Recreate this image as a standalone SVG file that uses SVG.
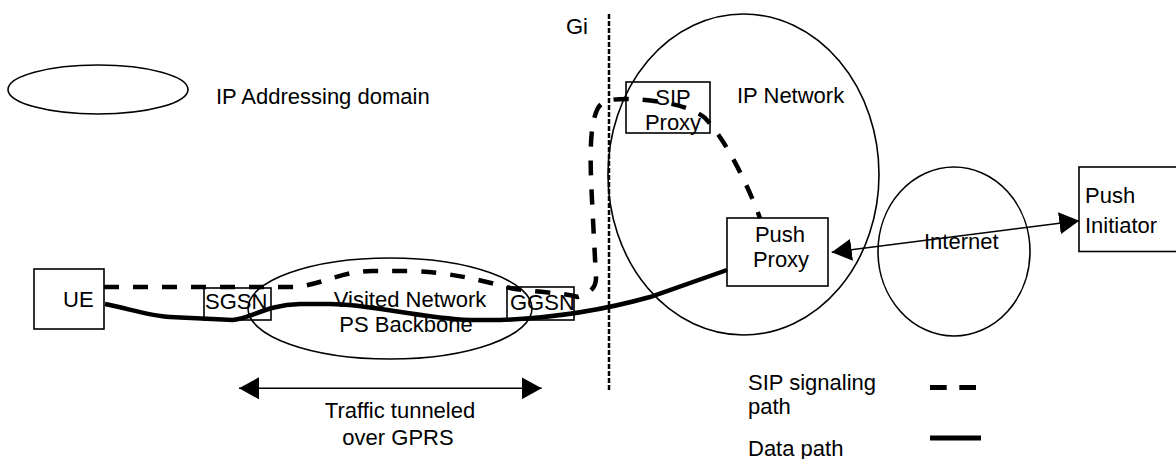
<svg xmlns="http://www.w3.org/2000/svg" width="1176" height="459" viewBox="0 0 1176 459">
<style>
  text { font-family: "Liberation Sans", Arial, sans-serif; font-size: 22px; fill: #000; }
  .outline { fill: none; stroke: #000; stroke-width: 1.6; }
  .box { fill: none; stroke: #000; stroke-width: 1.6; }
  .sig { fill: none; stroke: #000; stroke-width: 4.5; stroke-dasharray: 15 14; }
  .data { fill: none; stroke: #000; stroke-width: 4.5; }
  .arrow { fill: none; stroke: #000; stroke-width: 1.6; marker-start: url(#ah); marker-end: url(#ah); }
  .mid { text-anchor: middle; }
</style>
<defs>
  <marker id="ah" viewBox="0 0 20 22" markerWidth="20" markerHeight="22" markerUnits="userSpaceOnUse" refX="20" refY="11" orient="auto-start-reverse">
    <path d="M0,0 L20,11 L0,22 z" fill="#000"/>
  </marker>
</defs>
<rect width="1176" height="459" fill="#fff"/>

<g id="legend-domain">
  <ellipse class="outline" cx="98" cy="89.5" rx="90" ry="24.5"/>
  <text x="216" y="104">IP Addressing domain</text>
</g>

<g id="gi">
  <line x1="609" y1="14" x2="609" y2="392" stroke="#000" stroke-width="2.5" stroke-dasharray="5 2"/>
  <text x="566" y="34">Gi</text>
</g>

<g id="ip-network">
  <ellipse class="outline" cx="743.5" cy="174.5" rx="135.5" ry="160.5"/>
  <text x="737" y="103">IP Network</text>
</g>

<g id="internet">
  <ellipse class="outline" cx="954" cy="251.5" rx="76" ry="84.5"/>
  <text x="924" y="249">Internet</text>
</g>

<g id="visited-network">
  <ellipse class="outline" cx="390" cy="308.5" rx="142" ry="50.5"/>
  <text class="mid" x="410" y="307">Visited Network</text>
  <text class="mid" x="406" y="332">PS Backbone</text>
</g>

<g id="ue">
  <rect class="box" x="34" y="269" width="70" height="60"/>
  <text x="63" y="307">UE</text>
</g>

<g id="sgsn">
  <rect class="box" x="204" y="288" width="67" height="32"/>
  <text x="205" y="309">SGSN</text>
</g>

<g id="ggsn">
  <rect class="box" x="507" y="287" width="67" height="33"/>
  <text x="510" y="310">GGSN</text>
</g>

<g id="sip-proxy">
  <rect class="box" x="626" y="82" width="84" height="51"/>
  <text class="mid" x="673" y="105">SIP</text>
  <text class="mid" x="673" y="130">Proxy</text>
</g>

<g id="push-proxy">
  <rect class="box" x="727" y="218" width="101" height="68"/>
  <text class="mid" x="780" y="242">Push</text>
  <text class="mid" x="781" y="267">Proxy</text>
</g>

<g id="push-initiator">
  <rect class="box" x="1079" y="167" width="110" height="84.5"/>
  <text x="1085" y="203">Push</text>
  <text x="1085" y="233">Initiator</text>
</g>

<g id="connectors">
  <path class="sig" d="M104,287 L290,287 C318,287 340,271 372,271 L410,271 C450,272 485,281 510,288 C530,292 560,292 578,297 C590,293 596,288 596,278 L592,200 C590,160 589,125 598,108 C603,100 612,99 628,99 C655,100 688,104 705,118 C724,138 745,178 760,218"/>
  <path class="data" d="M105,304 C130,309 150,316 170,317 L233,320 C252,318 266,305 300,304 L330,304 C370,304 420,318 470,320 L500,320 C555,318 600,311 650,297 L727,270"/>
  <line class="arrow" x1="831.7" y1="252.3" x2="1079.3" y2="220.7"/>
  <line class="arrow" x1="239" y1="388.3" x2="541.7" y2="388.3"/>
</g>

<g id="tunnel-label">
  <text class="mid" x="400" y="418">Traffic tunneled</text>
  <text class="mid" x="398" y="445">over GPRS</text>
</g>

<g id="legend-paths">
  <text x="748" y="390">SIP signaling</text>
  <text x="748" y="414">path</text>
  <line x1="930" y1="387.5" x2="976" y2="387.5" stroke="#000" stroke-width="5" stroke-dasharray="16.7 12.6"/>
  <text x="748" y="456">Data path</text>
  <line x1="930" y1="438" x2="981" y2="438" stroke="#000" stroke-width="5"/>
</g>
</svg>
